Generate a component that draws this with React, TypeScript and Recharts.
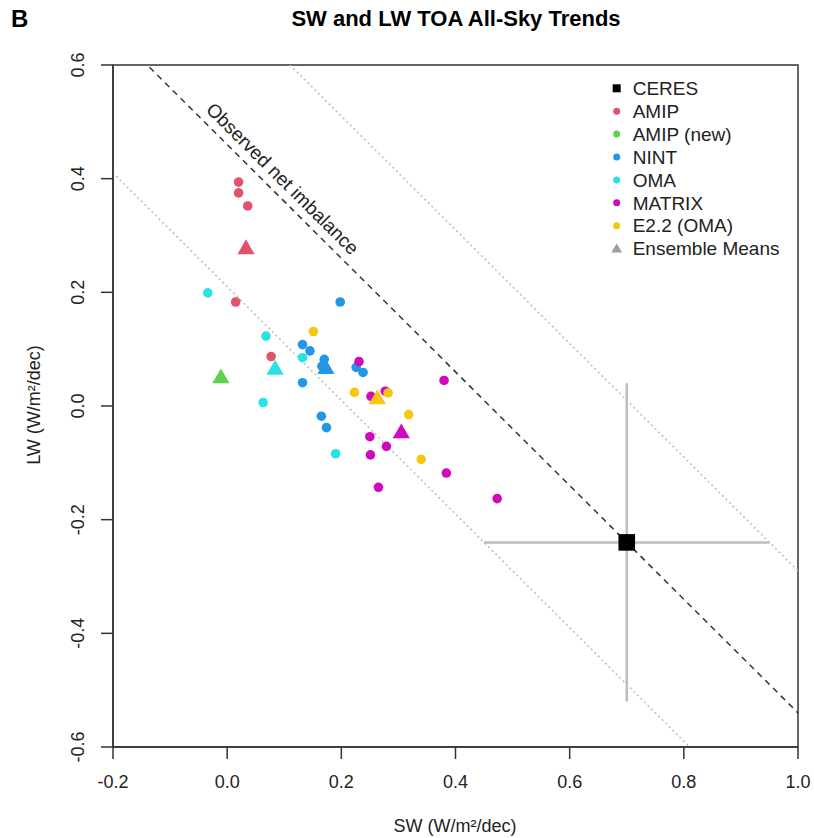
import React from "react";
import { ScatterChart, Scatter, XAxis, YAxis, ReferenceLine, ReferenceArea, ErrorBar } from "recharts";

const xTicks = [-0.2, 0, 0.2, 0.4, 0.6, 0.8, 1.0];
const yTicks = [-0.6, -0.4, -0.2, 0, 0.2, 0.4, 0.6];

// individual runs (SW, LW trends)
const amip = [
  { x: 0.020, y: 0.394 }, { x: 0.020, y: 0.375 }, { x: 0.036, y: 0.352 },
  { x: 0.015, y: 0.183 }, { x: 0.077, y: 0.087 },
];
const nint = [
  { x: 0.198, y: 0.183 }, { x: 0.132, y: 0.108 }, { x: 0.145, y: 0.097 }, { x: 0.132, y: 0.041 },
  { x: 0.170, y: 0.082 }, { x: 0.166, y: 0.070 }, { x: 0.165, y: -0.018 }, { x: 0.174, y: -0.038 },
  { x: 0.226, y: 0.068 }, { x: 0.238, y: 0.059 },
];
const oma = [
  { x: -0.034, y: 0.199 }, { x: 0.068, y: 0.123 }, { x: 0.132, y: 0.085 },
  { x: 0.063, y: 0.006 }, { x: 0.190, y: -0.084 },
];
const matrix = [
  { x: 0.231, y: 0.078 }, { x: 0.380, y: 0.045 }, { x: 0.252, y: 0.017 }, { x: 0.277, y: 0.026 },
  { x: 0.250, y: -0.054 }, { x: 0.279, y: -0.071 }, { x: 0.251, y: -0.086 }, { x: 0.384, y: -0.118 },
  { x: 0.265, y: -0.143 }, { x: 0.473, y: -0.163 },
];
const e22 = [
  { x: 0.151, y: 0.131 }, { x: 0.223, y: 0.024 }, { x: 0.282, y: 0.023 },
  { x: 0.318, y: -0.015 }, { x: 0.340, y: -0.094 },
];

const ensembleMeans = [
  { x: 0.033, y: 0.280, color: "#DF536B" },
  { x: -0.011, y: 0.053, color: "#61D04F" },
  { x: 0.173, y: 0.069, color: "#2297E6" },
  { x: 0.084, y: 0.068, color: "#28E2E5" },
  { x: 0.263, y: 0.016, color: "#F5C710" },
  { x: 0.305, y: -0.044, color: "#CD0BBC" },
];

const ceres = [{ x: 0.70, y: -0.24, ex: 0.25, ey: 0.28 }];

// lines of constant SW + LW (observed net imbalance +/- 0.25)
const netLevels = [0.21, 0.46, 0.71];
const labelAnchor = [{ x: 0.097, y: 0.40 }];

const legendItems = [
  { name: "CERES", color: "#000000", kind: "square" },
  { name: "AMIP", color: "#DF536B", kind: "dot" },
  { name: "AMIP (new)", color: "#61D04F", kind: "dot" },
  { name: "NINT", color: "#2297E6", kind: "dot" },
  { name: "OMA", color: "#28E2E5", kind: "dot" },
  { name: "MATRIX", color: "#CD0BBC", kind: "dot" },
  { name: "E2.2 (OMA)", color: "#F5C710", kind: "dot" },
  { name: "Ensemble Means", color: "#9E9E9E", kind: "tri" },
];

const FONT = "'Liberation Sans', Arial, Helvetica, sans-serif";
const INK = "#222";

const dot = (color: string) => (p: any) => <circle cx={p.cx} cy={p.cy} r={4.8} fill={color} />;
const tri = (p: any) => (
  <polygon points={`${p.cx},${p.cy - 7.5} ${p.cx - 8.6},${p.cy + 7.3} ${p.cx + 8.6},${p.cy + 7.3}`} fill={p.payload.color} />
);
const square = (p: any) => <rect x={p.cx - 8.3} y={p.cy - 8.3} width={16.6} height={16.6} fill="#000" />;
const labelShape = (p: any) => (
  <text x={p.cx} y={p.cy} transform={`rotate(44.85, ${p.cx}, ${p.cy})`} textAnchor="middle" dominantBaseline="central"
    fontSize={19} fontFamily={FONT} fill={INK}>Observed net imbalance</text>
);

const XTick = ({ x, y, payload }: any) => (
  <text x={x} y={y + 27} textAnchor="middle" fontSize={18} fontFamily={FONT} fill={INK}>{payload.value.toFixed(1)}</text>
);
const YTick = ({ x, y, payload }: any) => (
  <text x={x - 15} y={y} transform={`rotate(-90, ${x - 15}, ${y})`} textAnchor="middle" fontSize={18} fontFamily={FONT} fill={INK}>
    {payload.value.toFixed(1)}
  </text>
);

export default function App() {
  return (
    <div style={{ position: "absolute", left: 0, top: 0, width: 814, height: 838, background: "#fff" }}>
      <ScatterChart width={814} height={838} margin={{ top: 65, right: 16, bottom: 0, left: 0 }}>
        <XAxis type="number" dataKey="x" domain={[-0.2, 1.0]} ticks={xTicks} height={91} tick={<XTick />} tickSize={12}
          axisLine={{ stroke: "#333", strokeWidth: 1.5 }} tickLine={{ stroke: "#333", strokeWidth: 1.5 }} allowDataOverflow />
        <YAxis type="number" dataKey="y" domain={[-0.6, 0.6]} ticks={yTicks} width={113} tick={<YTick />} tickSize={12}
          axisLine={{ stroke: "#333", strokeWidth: 1.5 }} tickLine={{ stroke: "#333", strokeWidth: 1.5 }} allowDataOverflow />
        <ReferenceArea x1={-0.2} x2={1.0} y1={-0.6} y2={0.6} fill="none" stroke="#333" strokeWidth={1.5} fillOpacity={0} />
        {netLevels.map((c, i) => (
          <ReferenceLine key={c} ifOverflow="hidden" segment={[{ x: -0.3, y: c + 0.3 }, { x: 1.1, y: c - 1.1 }]}
            stroke={i === 1 ? "#333" : "#BBBBBB"} strokeWidth={1.5} strokeDasharray={i === 1 ? "6 5" : "2 3"} />
        ))}
        <Scatter data={labelAnchor} shape={labelShape} isAnimationActive={false} />
        <Scatter data={ceres} shape={() => <g />} isAnimationActive={false}>
          <ErrorBar dataKey="ex" direction="x" width={0} stroke="#BDBDBD" strokeWidth={2.5} />
          <ErrorBar dataKey="ey" direction="y" width={0} stroke="#BDBDBD" strokeWidth={2.5} />
        </Scatter>
        <Scatter data={amip} shape={dot("#DF536B")} isAnimationActive={false} />
        <Scatter data={nint} shape={dot("#2297E6")} isAnimationActive={false} />
        <Scatter data={oma} shape={dot("#28E2E5")} isAnimationActive={false} />
        <Scatter data={matrix} shape={dot("#CD0BBC")} isAnimationActive={false} />
        <Scatter data={e22} shape={dot("#F5C710")} isAnimationActive={false} />
        <Scatter data={ensembleMeans} shape={tri} isAnimationActive={false} />
        <Scatter data={ceres} shape={square} isAnimationActive={false} />
      </ScatterChart>
      <svg width={814} height={838} style={{ position: "absolute", left: 0, top: 0, pointerEvents: "none" }} fontFamily={FONT}>
        <text x={11} y={27} fontSize={24} fontWeight="bold" fill="#000">B</text>
        <text x={456} y={26} fontSize={22} fontWeight="bold" textAnchor="middle" fill="#000">SW and LW TOA All-Sky Trends</text>
        <text x={455} y={832} fontSize={18} textAnchor="middle" fill={INK}>SW (W/m²/dec)</text>
        <text x={40} y={405} fontSize={18} textAnchor="middle" fill={INK} transform="rotate(-90, 40, 405)">LW (W/m²/dec)</text>
        {legendItems.map((it, i) => {
          const cy = 88.3 + i * 22.9;
          return (
            <g key={it.name}>
              {it.kind === "square" && <rect x={612.7} y={cy - 4} width={8} height={8} fill={it.color} />}
              {it.kind === "dot" && <circle cx={616.7} cy={cy} r={3.5} fill={it.color} />}
              {it.kind === "tri" && <polygon points={`616.7,${cy - 5} 611.2,${cy + 4} 622.2,${cy + 4}`} fill={it.color} />}
              <text x={632.7} y={cy + 6.7} fontSize={19} fill={INK}>{it.name}</text>
            </g>
          );
        })}
      </svg>
    </div>
  );
}
